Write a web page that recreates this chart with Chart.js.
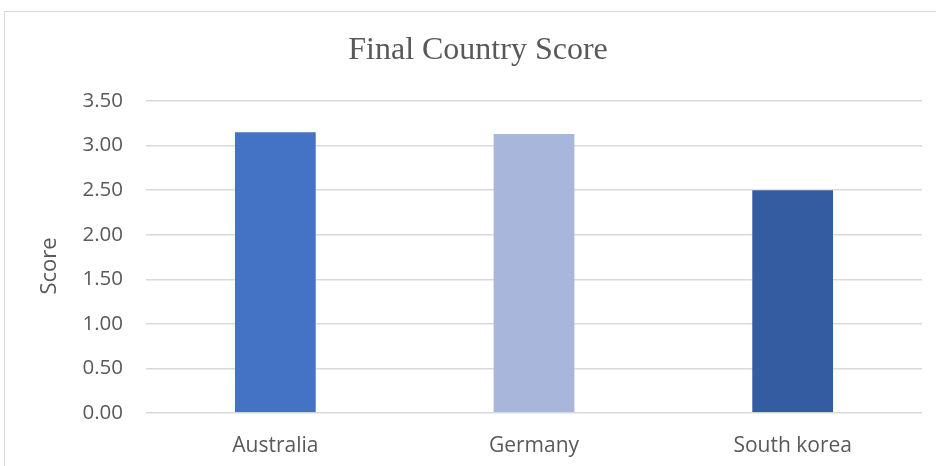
<!DOCTYPE html>
<html>
<head>
<meta charset="utf-8">
<script src="https://cdn.jsdelivr.net/npm/chart.js@4.4.1/dist/chart.umd.min.js"></script>
<style>
  html, body { margin: 0; padding: 0; background: #fff; overflow: hidden; }
  #wrap { position: relative; width: 936px; height: 466px; }
  #frame { position: absolute; left: 4px; top: 11px; width: 960px; height: 480px;
           border: 1px solid #d9d9d9; box-sizing: border-box; pointer-events: none; }
  canvas { position: absolute; left: 0; top: 0; }
</style>
</head>
<body>
<div id="wrap">
  <canvas id="chart" width="936" height="466"></canvas>
  <div id="frame"></div>
</div>
<script>
// Final score per country
const countries = ['Australia', 'Germany', 'South korea'];
const scores = [3.16, 3.14, 2.51];
const barColors = ['#4472C4', '#A8B6DB', '#345CA0'];
const chartTitle = 'Final Country Score';
const yAxisTitle = 'Score';

const sansFamily = "'Open Sans', 'Noto Sans', sans-serif";
const textColor = '#595959';

// Title and rotated axis title, drawn centred over the whole chart frame
const headings = {
  id: 'headings',
  afterDraw(chart) {
    const ctx = chart.ctx;
    ctx.save();
    ctx.fillStyle = textColor;
    ctx.textAlign = 'center';
    ctx.textBaseline = 'middle';
    ctx.font = "32px 'Liberation Serif', 'Times New Roman', serif";
    ctx.fillText(chartTitle, 478, 51);
    ctx.font = '22px ' + sansFamily;
    ctx.translate(50, 266);
    ctx.rotate(-Math.PI / 2);
    ctx.fillText(yAxisTitle, 0, 0);
    ctx.restore();
  }
};

new Chart(document.getElementById('chart'), {
  type: 'bar',
  data: {
    labels: countries,
    datasets: [{
      data: scores,
      backgroundColor: barColors,
      borderColor: 'rgba(255,255,255,0.35)',
      borderWidth: 1,
      barPercentage: 0.32,
      categoryPercentage: 1.0
    }]
  },
  plugins: [headings],
  options: {
    responsive: false,
    animation: false,
    layout: { padding: { left: 0, right: 14, top: 101, bottom: 0 } },
    plugins: {
      legend: { display: false },
      tooltip: { enabled: false },
      title: { display: false }
    },
    scales: {
      x: {
        grid: { display: false, drawTicks: false },
        border: { display: false },
        ticks: { color: textColor, font: { family: sansFamily, size: 21 }, padding: 20 },
        afterFit: (s) => { s.height = 53; }
      },
      y: {
        min: 0,
        max: 3.5,
        grid: { color: '#d9d9d9', lineWidth: 1.5, drawTicks: false },
        border: { display: false },
        ticks: {
          stepSize: 0.5,
          color: textColor,
          font: { family: sansFamily, size: 20.5 },
          padding: 23,
          callback: (v) => Number(v).toFixed(2)
        },
        afterFit: (s) => { s.width = 146; }
      }
    }
  }
});
</script>
</body>
</html>
